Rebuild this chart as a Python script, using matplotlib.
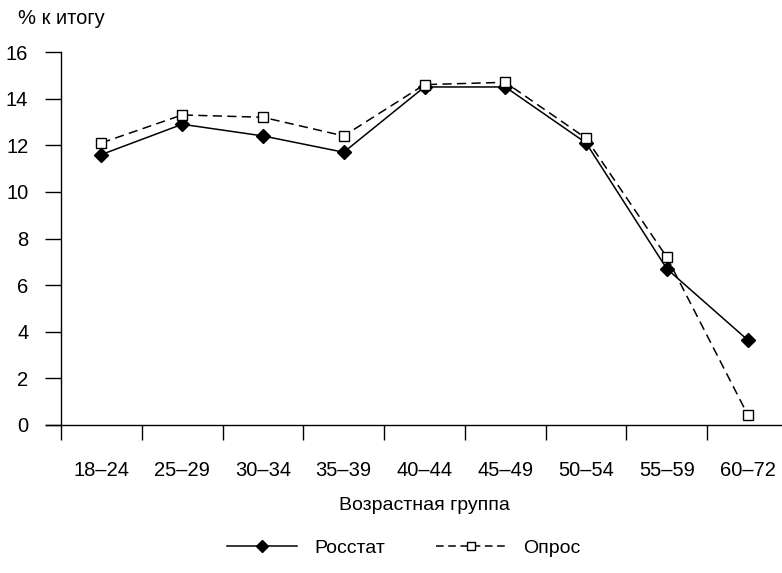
import matplotlib
matplotlib.use("Agg")
import matplotlib.pyplot as plt
from matplotlib.lines import Line2D

plt.rcParams['font.family'] = ['Liberation Sans', 'DejaVu Sans']

categories = ["18–24", "25–29", "30–34", "35–39", "40–44", "45–49", "50–54", "55–59", "60–72"]
rosstat = [11.6, 12.9, 12.4, 11.7, 14.5, 14.5, 12.1, 6.7, 3.65]
opros = [12.1, 13.3, 13.2, 12.4, 14.6, 14.7, 12.3, 7.2, 0.45]
yticks = [0, 2, 4, 6, 8, 10, 12, 14, 16]

W, H = 782, 573
fig = plt.figure(figsize=(W / 100, H / 100), dpi=100)
ax = fig.add_axes([61 / W, (H - 425) / H, (788 - 61) / W, (425 - 52) / H])

x = list(range(len(categories)))
ax.plot(x, rosstat, color='black', lw=1.1, marker='D', ms=7.5,
        mfc='black', mec='black', label='Росстат', clip_on=False)
ax.plot(x, opros, color='black', lw=1.1, ls=(0, (6, 3.5)), marker='s', ms=7.3,
        mfc='white', mec='black', mew=1.0, label='Опрос', clip_on=False)

ax.set_xlim(-0.5, 8.5)
ax.set_ylim(0, 16)
ax.set_yticks(yticks)
ax.set_yticklabels([str(v) for v in yticks], fontsize=14.5)
ax.set_xticks(x)
ax.set_xticklabels(categories, fontsize=14.5)
ax.set_xticks([i - 0.5 for i in range(len(categories))], minor=True)
ax.tick_params(axis='x', which='major', length=0, pad=26)
ax.tick_params(axis='x', which='minor', length=11, width=1.0, direction='out')
ax.tick_params(axis='y', which='major', length=11.5, width=1.0, direction='out', pad=12)

for s in ['top', 'right']:
    ax.spines[s].set_visible(False)
ax.spines['left'].set_linewidth(1.0)
ax.spines['bottom'].set_visible(False)
ax.plot([-15 / (788 - 61), 1], [0, 0], transform=ax.transAxes, color='black',
        lw=1.0, clip_on=False)

ax.set_xlabel('Возрастная группа', fontsize=14, labelpad=12)
fig.text(18 / W, 1 - 18 / H, '% к итогу', fontsize=14.5, va='center', ha='left')

handles = [
    Line2D([], [], color='black', lw=1.1, marker='D', ms=6, mfc='black'),
    Line2D([], [], color='black', lw=1.1, ls=(0, (5, 3)), marker='s', ms=6,
           mfc='white', mec='black'),
]
fig.legend(handles, ['Росстат', 'Опрос'], loc='center', bbox_to_anchor=(404 / W, 1 - 548 / H),
           ncol=2, frameon=False, fontsize=14, handlelength=3.6, columnspacing=2.6,
           handletextpad=0.9)

fig.savefig('out.png', dpi=100)
